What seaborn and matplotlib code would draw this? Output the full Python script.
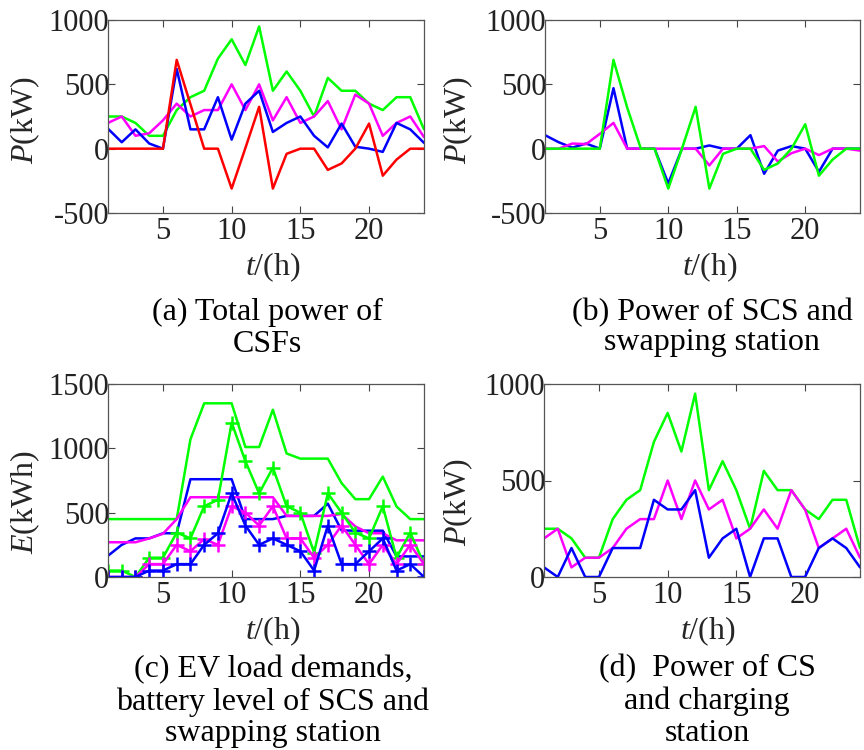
import numpy as np
import pandas as pd
import matplotlib
matplotlib.use("Agg")
import matplotlib.pyplot as plt
import seaborn as sns

# ---------------- data ----------------
hours = list(range(1, 25))

# (a) Total power of CSFs
a_green = [250, 250, 200, 100, 100, 300, 400, 450, 700, 850, 650, 950,
           450, 600, 450, 250, 550, 450, 450, 350, 300, 400, 400, 150]
a_magenta = [200, 250, 100, 120, 220, 350, 250, 300, 300, 500, 300, 500,
             220, 400, 200, 250, 370, 150, 420, 350, 100, 200, 250, 90]
a_blue = [155, 50, 150, 40, 0, 620, 150, 150, 400, 70, 350, 450,
          130, 200, 250, 100, 10, 195, 15, 0, -25, 200, 150, 45]
a_red = [0, 0, 0, 0, 0, 690, 345, 0, 0, -310, 5, 325,
         -310, -40, 0, 0, -165, -115, 0, 195, -210, -85, 0, 0]

# (b) Power of SCS and swapping station
b_blue = [105, 50, 8, 40, 0, 470, 0, 0, 0, -270, 0, 0,
          25, 0, 0, 105, -195, -15, 20, 0, -180, 0, 0, 0]
b_magenta = [0, 0, 40, 35, 115, 200, 0, 0, 0, 0, 0, 0,
             -130, 0, 0, 0, 20, -100, -35, 0, -50, 0, 0, -15]
b_green = [0, 0, 0, 0, 0, 690, 320, 0, 0, -310, 0, 325,
           -310, -40, 0, 0, -165, -115, 0, 190, -210, -85, 0, 0]

# (c) EV load demands (+) and battery level (lines)
c_green_line = [450, 450, 450, 450, 450, 450, 1070, 1350, 1350, 1350, 1010, 1010,
                1300, 960, 920, 920, 920, 730, 605, 605, 780, 548, 450, 450]
c_blue_line = [165, 250, 300, 300, 340, 340, 760, 760, 760, 760, 450, 450,
               450, 475, 475, 475, 570, 362, 360, 360, 360, 160, 160, 160]
c_magenta_line = [270, 270, 270, 300, 336, 450, 620, 620, 620, 620, 620, 620,
                  620, 475, 475, 475, 475, 490, 393, 340, 340, 285, 285, 285]
c_green_plus = [50, 50, 0, 150, 150, 345, 300, 550, 600, 1200, 900, 650,
                850, 550, 500, 190, 650, 500, 345, 300, 550, 150, 345, 100]
c_magenta_plus = [0, 0, 0, 100, 100, 250, 200, 295, 250, 550, 500, 400,
                  550, 300, 300, 150, 250, 400, 250, 100, 250, 100, 250, 100]
c_blue_plus = [0, 0, 0, 50, 50, 100, 100, 250, 340, 650, 400, 250,
               300, 250, 200, 50, 400, 100, 100, 200, 300, 50, 100, 0]

# (d) Power of CS and charging station
d_green = [250, 250, 200, 100, 100, 300, 400, 450, 700, 850, 650, 950,
           450, 600, 450, 250, 550, 450, 450, 350, 300, 400, 400, 150]
d_magenta = [200, 250, 50, 100, 100, 150, 250, 300, 300, 500, 300, 500,
             350, 400, 200, 250, 350, 250, 450, 350, 150, 200, 250, 100]
d_blue = [50, 0, 150, 0, 0, 150, 150, 150, 400, 350, 350, 450,
          100, 200, 250, 0, 200, 200, 0, 0, 150, 200, 150, 50]

x_ticks = [5, 10, 15, 20]
captions = {
    "a": ["(a) Total power of", "CSFs"],
    "b": ["(b) Power of SCS and", "swapping station"],
    "c": ["(c) EV load demands,", "battery level of SCS and", "swapping station"],
    "d": ["(d)  Power of CS", "and charging", "station"],
}

# ---------------- style ----------------
sns.set_style("ticks")
plt.rcParams["font.family"] = ["Liberation Serif", "DejaVu Serif"]
plt.rcParams["mathtext.fontset"] = "custom"
plt.rcParams["mathtext.rm"] = "Liberation Serif"
plt.rcParams["mathtext.it"] = "Liberation Serif:italic"
plt.rcParams["axes.unicode_minus"] = False

GREEN, BLUE, MAGENTA, RED = "#00ff00", "#0000ff", "#ff00ff", "#ff0000"
LW = 1.8
TICK_FS = 22
LABEL_FS = 23
CAP_FS = 23

W, H = 864, 750
fig = plt.figure(figsize=(W / 100, H / 100), dpi=100)


def px_axes(left, right, top, bottom):
    return fig.add_axes([left / W, 1 - bottom / H, (right - left) / W, (bottom - top) / H])


def style_axes(ax, ylim, yticks, ylabel, xlab_x, ylab_x, ylab_y):
    ax.set_xlim(1, 24)
    ax.set_ylim(*ylim)
    ax.set_xticks(x_ticks)
    ax.set_yticks(yticks)
    ax.tick_params(direction="in", top=True, right=True, length=5, width=0.8,
                   color="#444444", labelsize=TICK_FS, labelcolor="#222222")
    ax.tick_params(axis="y", pad=-1)
    ax.tick_params(axis="x", pad=3)
    for sp in ax.spines.values():
        sp.set_visible(True)
        sp.set_color("#555555")
        sp.set_linewidth(0.9)
    ax.set_xlabel(r"$t$/(h)", fontsize=LABEL_FS)
    ax.set_ylabel(ylabel, fontsize=LABEL_FS)
    ax.xaxis.label.set_va("baseline")
    ax.xaxis.set_label_coords(xlab_x, -0.322)
    ax.yaxis.set_label_coords(ylab_x, ylab_y)


def line(ax, y, color, marker=None):
    kws = dict(x=hours, y=y, ax=ax, color=color, linewidth=LW)
    if marker:
        kws.update(marker=marker, markersize=10, markeredgewidth=1.8,
                   markeredgecolor=color)
    sns.lineplot(**kws)


# (a)
axa = px_axes(108, 424, 20, 213)
line(axa, a_green, GREEN)
line(axa, a_magenta, MAGENTA)
line(axa, a_blue, BLUE)
line(axa, a_red, RED)
style_axes(axa, (-500, 1000), [-500, 0, 500, 1000], r"$P$(kW)",
           (273 - 108) / 316, (42 - 108) / 316, (213 - 120) / 193)

# (b)
axb = px_axes(545, 860, 20, 213)
line(axb, b_blue, BLUE)
line(axb, b_magenta, MAGENTA)
line(axb, b_green, GREEN)
style_axes(axb, (-500, 1000), [-500, 0, 500, 1000], r"$P$(kW)",
           (710 - 545) / 315, (475 - 545) / 315, (213 - 120) / 193)

# (c)
axc = px_axes(108, 424, 384, 577)
line(axc, c_green_line, GREEN)
line(axc, c_blue_line, BLUE)
line(axc, c_magenta_line, MAGENTA)
line(axc, c_green_plus, GREEN, "+")
line(axc, c_magenta_plus, MAGENTA, "+")
line(axc, c_blue_plus, BLUE, "+")
style_axes(axc, (0, 1500), [0, 500, 1000, 1500], r"$E$(kWh)",
           (273 - 108) / 316, (42 - 108) / 316, (577 - 502) / 193)

# (d)
axd = px_axes(544, 860, 384, 577)
line(axd, d_green, GREEN)
line(axd, d_magenta, MAGENTA)
line(axd, d_blue, BLUE)
style_axes(axd, (0, 1000), [0, 500, 1000], r"$P$(kW)",
           (708 - 544) / 316, (475 - 544) / 316, (577 - 502) / 193)

for ax in (axa, axb, axc, axd):
    if ax.get_legend() is not None:
        ax.get_legend().remove()

# captions (pixel positions: centre x, baselines)
cap_pos = {
    "a": (267, [320, 352]),
    "b": (712, [320, 350]),
    "c": (273, [677, 710, 741]),
    "d": (707, [676, 709, 741]),
}
for key, lines in captions.items():
    cx, bases = cap_pos[key]
    for txt, by in zip(lines, bases):
        fig.text(cx / W, 1 - by / H, txt, ha="center", va="baseline",
                 fontsize=CAP_FS, color="black")

fig.savefig("out.png", dpi=100)
